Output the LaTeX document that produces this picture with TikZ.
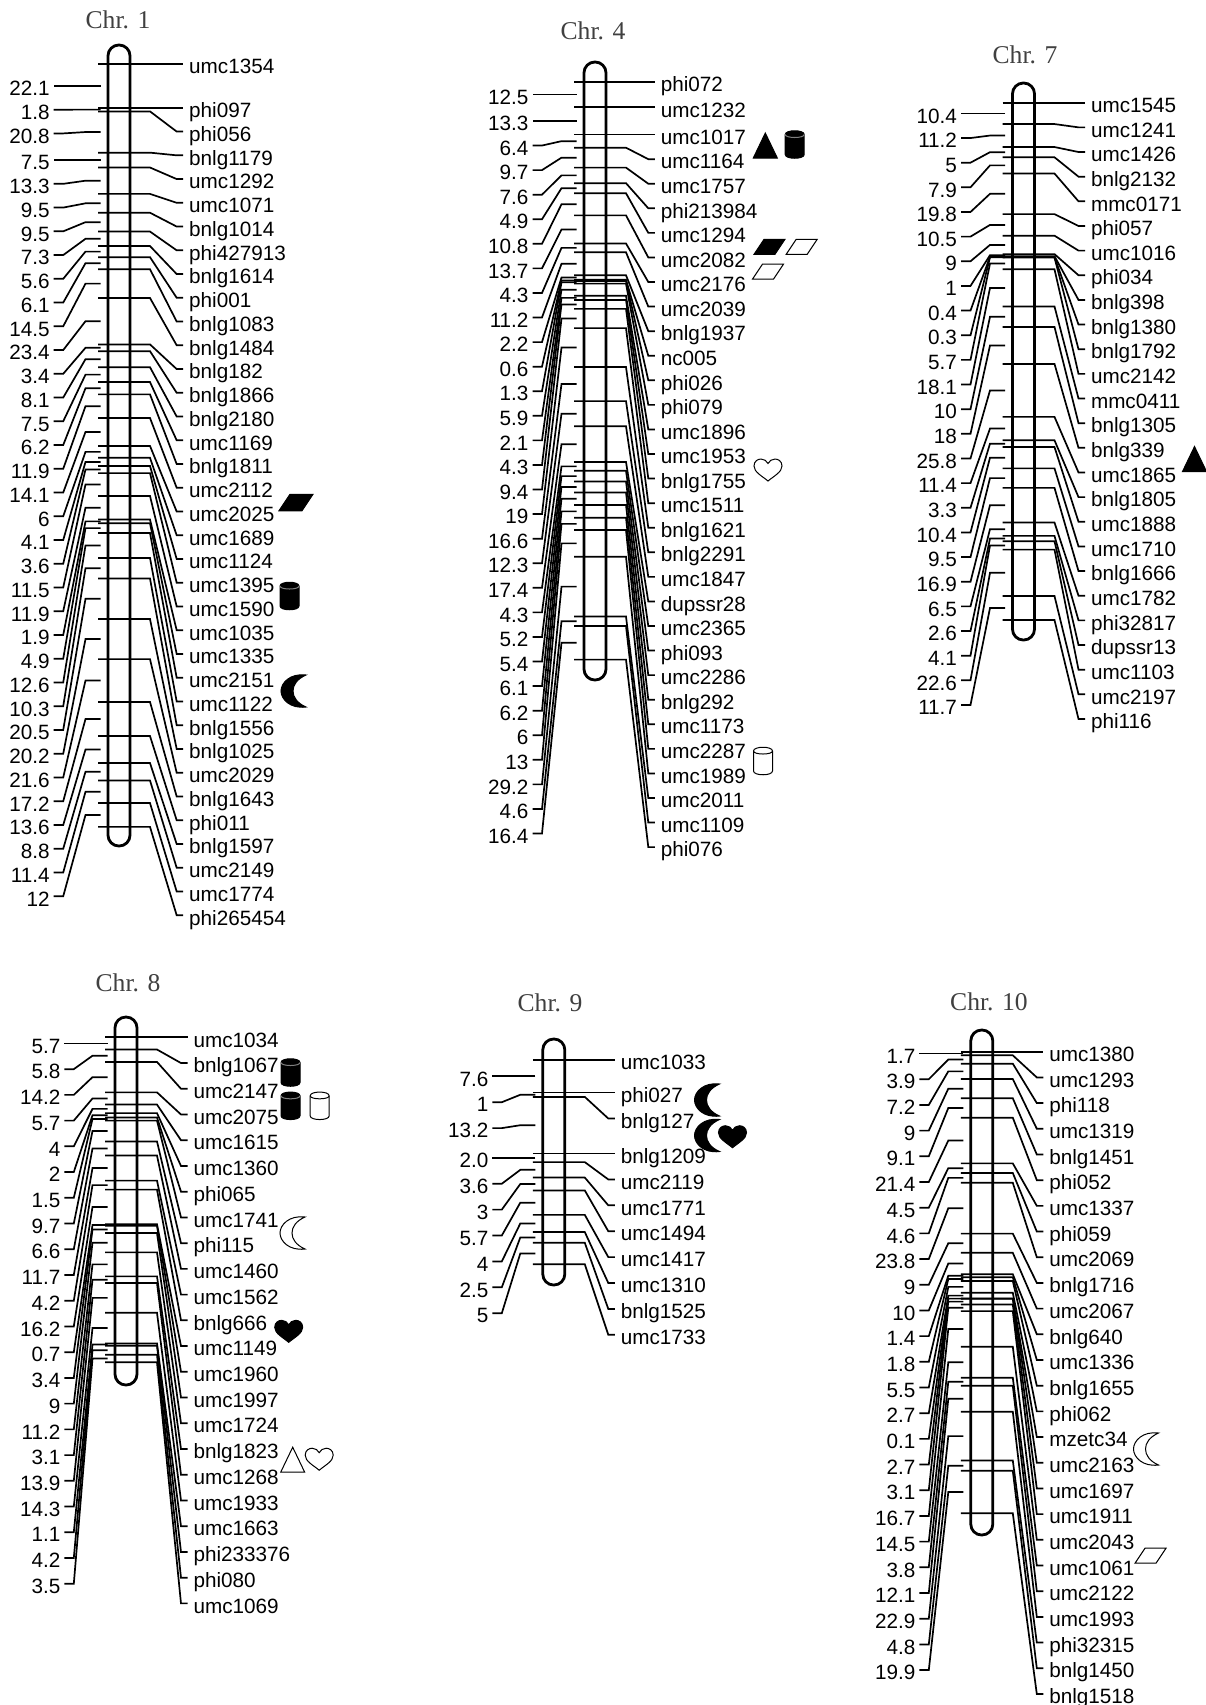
\documentclass[tikz,border=0pt]{standalone}
\usepackage{fontspec}
\setmainfont{Liberation Sans}
\newfontfamily\chrfont{Liberation Serif}
\usetikzlibrary{positioning}
\tikzset{
  chrbar/.style = {rectangle, rounded corners=5.4pt, draw=black, line width=1.4pt,
                   minimum width=11pt, inner sep=0pt, outer sep=0pt},
  marker/.style = {anchor=west, inner sep=0pt, inner xsep=3pt, outer sep=0pt,
                   text height=9.7pt, text depth=0pt, font=\fontsize{10.35}{12}\selectfont},
  dist/.style   = {anchor=east, inner sep=0pt, inner xsep=2pt, outer sep=0pt,
                   text height=9.7pt, text depth=0pt, font=\fontsize{10.35}{12}\selectfont},
  link/.style   = {draw=black, line width=0.85pt, line join=miter},
  chrname/.style = {font=\chrfont\fontsize{12.8}{14}\selectfont, text=black!75, inner sep=0pt},
  symfull/.style = {draw=black, fill=black, line width=0.5pt},
  symopen/.style = {draw=black, fill=white, line width=0.5pt},
  pics/para/.style = {code={
    \path[pic actions] (-15.5,7.5) -- (-5.5,-7.5) -- (15.5,-7.5) -- (5.5,7.5) -- cycle;}},
  pics/tri/.style = {code={
    \path[pic actions] (-12,12.5) -- (0,-12.5) -- (12,12.5) -- cycle;}},
  pics/moon/.style = {code={
    \path[pic actions] (12,-16) .. controls (-4,-18) and (-13,-8) .. (-13,0)
      .. controls (-13,8) and (-4,18) .. (12,16)
      .. controls (3,12) and (-1,6) .. (-1,0) .. controls (-1,-6) and (3,-12) .. (12,-16) -- cycle;}},
  pics/heart/.style = {code={
    \path[pic actions] (0,11) .. controls (-6,6) and (-14,2) .. (-14,-4)
      .. controls (-14,-9) and (-10,-11) .. (-7,-11) .. controls (-4,-11) and (-1,-9) .. (0,-6.5)
      .. controls (1,-9) and (4,-11) .. (7,-11) .. controls (10,-11) and (14,-9) .. (14,-4)
      .. controls (14,2) and (6,6) .. (0,11) -- cycle;}},
  pics/cyl/.style = {code={
    \path[pic actions] (-9.5,-10) -- (-9.5,10) .. controls (-9.5,15) and (9.5,15) .. (9.5,10)
      -- (9.5,-10) .. controls (9.5,-15) and (-9.5,-15) .. (-9.5,-10) -- cycle;
    \draw[#1, line width=0.5pt] (-9.5,-10) .. controls (-9.5,-6) and (9.5,-6) .. (9.5,-10);}},
}
% id, centre x, bar top, bar bottom, first marker y, px per cM, label pitch, slant right/left, list
\def\splitrl#1/#2\relax{\def\rslant{#1}\def\lslant{#2}}
\newcommand{\chrmap}[9]{
  \splitrl#8\relax
  \node[chrbar, minimum height={(#4-#3)*0.5pt}] (#1-bar) at (#2,{(#3+#4)/2}) {};
  \xdef\marky{#5}\xdef\labry{-1000}\xdef\lably{-1000}
  \foreach \d/\m [count=\i] in {#9}{
    \pgfmathsetmacro\newy{\marky+\d*#6}
    \pgfmathsetmacro\midy{(\marky+\newy)/2}
    \pgfmathsetmacro\ry{max(\labry+#7,\newy)}
    \pgfmathsetmacro\ly{max(\lably+#7,\midy)}
    \coordinate (#1-t\i) at ({#2-21},\newy);
    \coordinate (#1-k\i) at ({#2+31},\newy);
    \coordinate (#1-s\i) at ({#2+\rslant},\ry);
    \node[marker] (#1-m\i) at ({#2+\rslant+6.5},\ry) {\m};
    \draw[link] (#1-t\i) -- (#1-k\i) -- (#1-s\i) -- (#1-m\i.west);
    \ifnum\i>1
      \coordinate (#1-a\i) at ({#2-18.5},\midy);
      \coordinate (#1-b\i) at ({#2-33.5},\midy);
      \coordinate (#1-c\i) at ({#2-\lslant},\ly);
      \node[dist] (#1-d\i) at ({#2-\lslant-9.5},\ly) {\d};
      \draw[link] (#1-a\i) -- (#1-b\i) -- (#1-c\i) -- (#1-d\i.east);
      \xdef\lably{\ly}
    \fi
    \xdef\marky{\newy}\xdef\labry{\ry}
  }
}

\begin{document}
\begin{tikzpicture}[x=0.5pt, y=-0.5pt]
  \useasboundingbox (0,0) rectangle (1206,1705);

  % chromosome titles
  \node[chrname] (t1) at (118,20) {Chr. 1};
  \node[chrname] (t4) at (593,31) {Chr. 4};
  \node[chrname] (t7) at (1025,55) {Chr. 7};
  \node[chrname] (t8) at (128,983) {Chr. 8};
  \node[chrname] (t9) at (550,1003) {Chr. 9};
  \node[chrname] (t10) at (989,1002) {Chr. 10};

  \chrmap{c1}{119}{45}{846}{64}{1.983}{23.75}{57.7/55.8}{0/umc1354, 22.1/phi097, 1.8/phi056,
    20.8/bnlg1179, 7.5/umc1292, 13.3/umc1071, 9.5/bnlg1014, 9.5/phi427913, 7.3/bnlg1614,
    5.6/phi001, 6.1/bnlg1083, 14.5/bnlg1484, 23.4/bnlg182, 3.4/bnlg1866, 8.1/bnlg2180,
    7.5/umc1169, 6.2/bnlg1811, 11.9/umc2112, 14.1/umc2025, 6/umc1689, 4.1/umc1124,
    3.6/umc1395, 11.5/umc1590, 11.9/umc1035, 1.9/umc1335, 4.9/umc2151, 12.6/umc1122,
    10.3/bnlg1556, 20.5/bnlg1025, 20.2/umc2029, 21.6/bnlg1643, 17.2/phi011, 13.6/bnlg1597,
    8.8/umc2149, 11.4/umc1774, 12/phi265454}

  \chrmap{c4}{595}{62}{680}{81.7}{2.05}{24.57}{53.3/53}{0/phi072, 12.5/umc1232, 13.3/umc1017,
    6.4/umc1164, 9.7/umc1757, 7.6/phi213984, 4.9/umc1294, 10.8/umc2082, 13.7/umc2176,
    4.3/umc2039, 11.2/bnlg1937, 2.2/nc005, 0.6/phi026, 1.3/phi079, 5.9/umc1896, 2.1/umc1953,
    4.3/bnlg1755, 9.4/umc1511, 19/bnlg1621, 16.6/bnlg2291, 12.3/umc1847, 17.4/dupssr28,
    4.3/umc2365, 5.2/phi093, 5.4/umc2286, 6.1/bnlg292, 6.2/umc1173, 6/umc2287, 13/umc1989,
    29.2/umc2011, 4.6/umc1109, 16.4/phi076}

  \chrmap{c7}{1023.5}{83}{640}{102.7}{2.052}{24.65}{55/53}{0/umc1545, 10.4/umc1241, 11.2/umc1426,
    5/bnlg2132, 7.9/mmc0171, 19.8/phi057, 10.5/umc1016, 9/phi034, 1/bnlg398, 0.4/bnlg1380,
    0.3/bnlg1792, 5.7/umc2142, 18.1/mmc0411, 10/bnlg1305, 18/bnlg339, 25.8/umc1865,
    11.4/bnlg1805, 3.3/umc1888, 10.4/umc1710, 9.5/bnlg1666, 16.9/umc1782, 6.5/phi32817,
    2.6/dupssr13, 4.1/umc1103, 22.6/umc2197, 11.7/phi116}

  \chrmap{c8}{126}{1017}{1385}{1037.3}{2.142}{25.73}{55/52.2}{0/umc1034, 5.7/bnlg1067, 5.8/umc2147,
    14.2/umc2075, 5.7/umc1615, 4/umc1360, 2/phi065, 1.5/umc1741, 9.7/phi115, 6.6/umc1460,
    11.7/umc1562, 4.2/bnlg666, 16.2/umc1149, 0.7/umc1960, 3.4/umc1997, 9/umc1724,
    11.2/bnlg1823, 3.1/umc1268, 13.9/umc1933, 14.3/umc1663, 1.1/phi233376, 4.2/phi080,
    3.5/umc1069}

  \chrmap{c9}{553.8}{1039}{1285}{1060}{4.29}{25.9}{54.5/52}{0/umc1033, 7.6/phi027, 1/bnlg127,
    13.2/bnlg1209, 2.0/umc2119, 3.6/umc1771, 3/umc1494, 5.7/umc1417, 4/umc1310, 2.5/bnlg1525,
    5/umc1733}

  \chrmap{c10}{981.8}{1030}{1535}{1051.7}{2.135}{25.69}{55/53}{0/umc1380, 1.7/umc1293, 3.9/phi118,
    7.2/umc1319, 9/bnlg1451, 9.1/phi052, 21.4/umc1337, 4.5/phi059, 4.6/umc2069, 23.8/bnlg1716,
    9/umc2067, 10/bnlg640, 1.4/umc1336, 1.8/bnlg1655, 5.5/phi062, 2.7/mzetc34, 0.1/umc2163,
    2.7/umc1697, 3.1/umc1911, 16.7/umc2043, 14.5/umc1061, 3.8/umc2122, 12.1/umc1993,
    22.9/phi32315, 4.8/bnlg1450, 19.9/bnlg1518}

  % symbols beside the markers
  \pic[symfull, scale=1.1] at (296,502.5) {para};
  \pic[symfull] at (289.5,596) {cyl=black!50};
  \pic[symfull] at (294,691) {moon};

  \pic[symfull] at (765.3,145.5) {tri};
  \pic[symfull] at (794.7,144.5) {cyl=black!50};
  \pic[symfull] at (769.5,246.8) {para};
  \pic[symopen] at (801.7,246.8) {para};
  \pic[symopen] at (768,271.6) {para};
  \pic[symopen] at (768,470) {heart};
  \pic[symopen] at (763,761) {cyl=black};

  \pic[symfull] at (1194.5,459) {tri};

  \pic[symfull] at (290.5,1072.5) {cyl=black!50};
  \pic[symfull] at (290.5,1105.8) {cyl=black!50};
  \pic[symopen] at (319.7,1105.8) {cyl=black};
  \pic[symopen] at (293,1233) {moon};
  \pic[symfull] at (288.7,1331.3) {heart};
  \pic[symopen] at (292.7,1459.7) {tri};
  \pic[symopen] at (319.2,1459.2) {heart};

  \pic[symfull] at (707.5,1100) {moon};
  \pic[symfull] at (707.5,1135.5) {moon};
  \pic[symfull] at (732.5,1136.7) {heart};

  \pic[symopen] at (1146.5,1449) {moon};
  \pic[symopen] at (1150.5,1555.7) {para};
\end{tikzpicture}
\end{document}
